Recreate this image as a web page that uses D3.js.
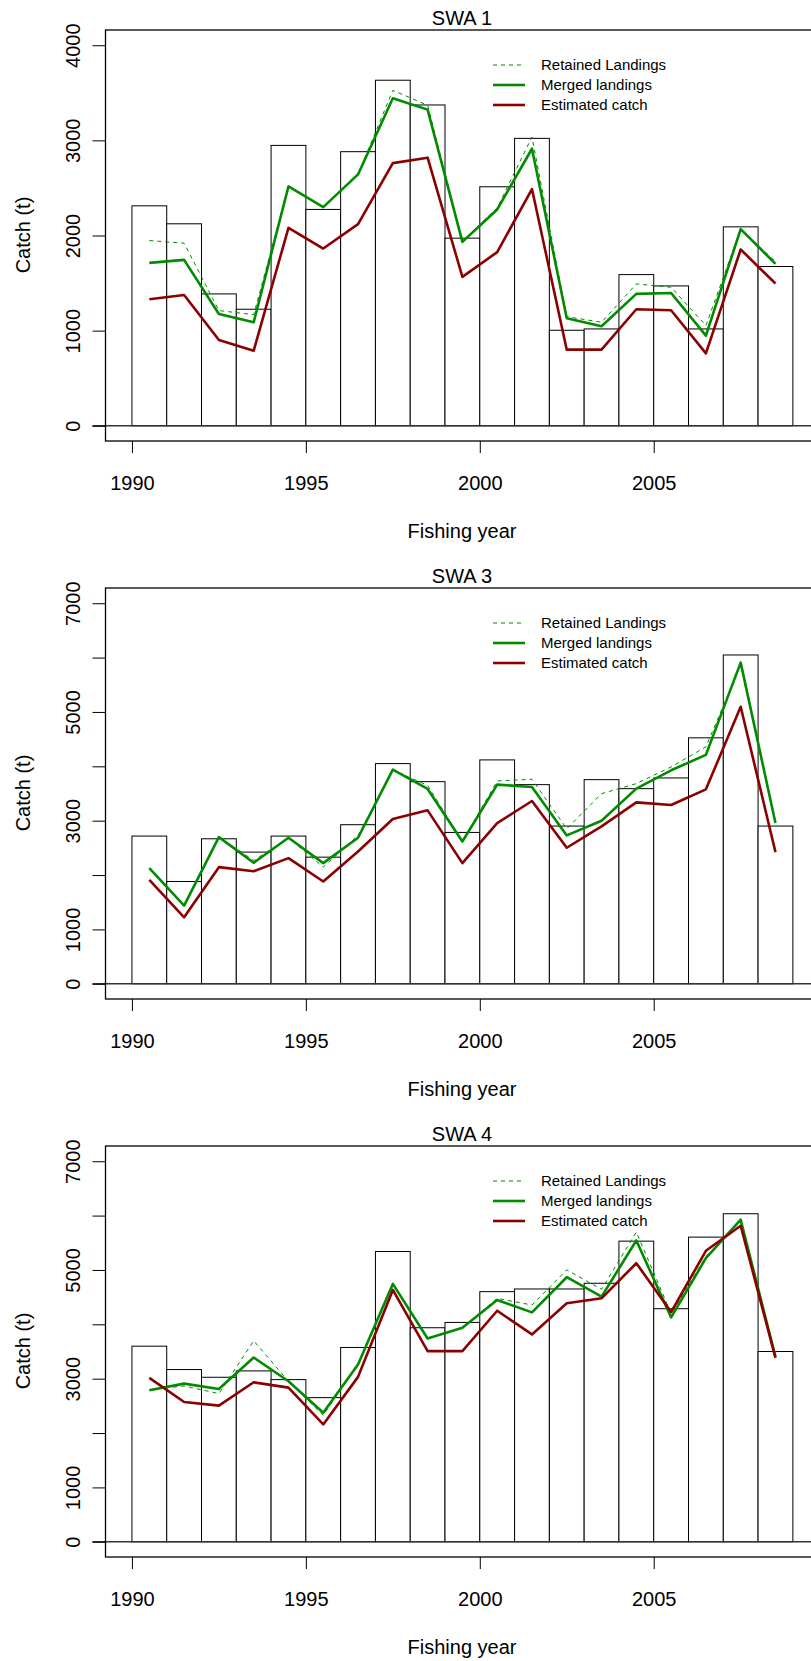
<!DOCTYPE html>
<html>
<head>
<meta charset="utf-8">
<script src="https://cdn.jsdelivr.net/npm/d3@7"></script>
<style>
  body { margin: 0; background: #fff; }
  svg text { font-family: "Liberation Sans", Arial, sans-serif; fill: #000; }
</style>
</head>
<body>
<div id="chart"></div>
<script>
// Años de pesca (cada barra cubre un año completo)
var years = [1990, 1991, 1992, 1993, 1994, 1995, 1996, 1997, 1998, 1999,
             2000, 2001, 2002, 2003, 2004, 2005, 2006, 2007, 2008];
var xTicks = [1990, 1995, 2000, 2005];

// SWA 1
var swa1Bars      = [2312, 2123, 1386, 1225, 2947, 2274, 2881, 3632, 3372, 1972, 2512, 3021, 1004, 1018, 1589, 1470, 1018, 2091, 1674];
var swa1Retained  = [1947, 1919, 1211, 1168, 2516, 2298, 2642, 3526, 3368, 1940, 2291, 3035, 1147, 1088, 1491, 1456, 1053, 2067, 1726];
var swa1Merged    = [1712, 1744, 1175, 1088, 2516, 2298, 2642, 3442, 3323, 1933, 2274, 2912, 1130, 1046, 1386, 1396,  947, 2067, 1702];
var swa1Estimated = [1330, 1375,  902,  789, 2081, 1863, 2119, 2761, 2818, 1565, 1825, 2488,  800,  800, 1225, 1214,  761, 1853, 1495];
var swa1Max = 4000;
var swa1Labels = [0, 1000, 2000, 3000, 4000];

// SWA 3
var swa3Bars      = [2717, 1881, 2667, 2422, 2717, 2329, 2926, 4050, 3718, 2784, 4118, 3663, 2901, 3755, 3589, 3786, 4524, 6048, 2901];
var swa3Retained  = [2127, 1438, 2698, 2268, 2686, 2145, 2729, 3927, 3651, 2618, 3731, 3762, 2852, 3497, 3682, 3989, 4358, 5864, 2956];
var swa3Merged    = [2127, 1438, 2698, 2225, 2686, 2219, 2686, 3940, 3583, 2618, 3663, 3620, 2729, 2999, 3589, 3927, 4210, 5907, 2956];
var swa3Estimated = [1911, 1223, 2145, 2071, 2311, 1881, 2434, 3030, 3190, 2219, 2956, 3362, 2502, 2895, 3337, 3288, 3577, 5095, 2422];
var swa3Max = 7000;
var swa3Labels = [0, 1000, 3000, 5000, 7000];

// SWA 4
var swa4Bars      = [3598, 3168, 3026, 3143, 2983, 2651, 3574, 5339, 3937, 4035, 4601, 4650, 4650, 4755, 5530, 4287, 5604, 6034, 3500];
var swa4Retained  = [2798, 2866, 2725, 3697, 2953, 2325, 3278, 4755, 3740, 3937, 4478, 4355, 5001, 4644, 5696, 4201, 5247, 5893, 3402];
var swa4Merged    = [2786, 2909, 2811, 3389, 2953, 2374, 3260, 4743, 3740, 3937, 4447, 4220, 4866, 4509, 5542, 4128, 5216, 5924, 3402];
var swa4Estimated = [3014, 2571, 2504, 2934, 2836, 2159, 3033, 4632, 3506, 3506, 4250, 3814, 4386, 4478, 5124, 4226, 5352, 5813, 3383];
var swa4Max = 7000;
var swa4Labels = [0, 1000, 3000, 5000, 7000];

var legendNames = ["Retained Landings", "Merged landings", "Estimated catch"];
var green = "#008B00", red = "#8B0000";

var width = 811, height = 1661;
var svg = d3.select("#chart").append("svg")
    .attr("width", width)
    .attr("height", height);

// Escala x comun (xlim 1990-2009 con la extension del 4%)
var plotLeft = 105.5, plotRight = 819.3, plotH = 411;
var x = d3.scaleLinear().domain([1989.24, 2009.76]).range([plotLeft, plotRight]);

/**
 * Dibuja un panel completo: barras, lineas, ejes y leyenda
 */
function dibujarPanel(title, top, bars, retained, merged, estimated, ymax, labels) {
    var bottom = top + plotH;
    var pad = ymax * 0.04;
    var y = d3.scaleLinear().domain([-pad, ymax + pad]).range([bottom, top]);
    var g = svg.append("g");

    // barras
    g.selectAll(".bar")
        .data(bars)
        .enter().append("rect")
        .attr("x", function (d, i) { return x(years[i]); })
        .attr("width", function (d, i) { return x(years[i] + 1) - x(years[i]); })
        .attr("y", function (d) { return y(d); })
        .attr("height", function (d) { return y(0) - y(d); })
        .attr("fill", "#fff")
        .attr("stroke", "#000")
        .attr("stroke-width", 1);

    // linea del cero
    g.append("line")
        .attr("x1", plotLeft - 13).attr("x2", width)
        .attr("y1", y(0)).attr("y2", y(0))
        .attr("stroke", "#333")
        .attr("stroke-width", 1.5);

    var line = d3.line()
        .x(function (d, i) { return x(years[i] + 0.5); })
        .y(function (d) { return y(d); });

    g.append("path").datum(retained)
        .attr("d", line).attr("fill", "none")
        .attr("stroke", green).attr("stroke-width", 1)
        .attr("stroke-dasharray", "4,4");
    g.append("path").datum(merged)
        .attr("d", line).attr("fill", "none")
        .attr("stroke", green).attr("stroke-width", 2.6)
        .attr("stroke-linejoin", "round");
    g.append("path").datum(estimated)
        .attr("d", line).attr("fill", "none")
        .attr("stroke", red).attr("stroke-width", 2.6)
        .attr("stroke-linejoin", "round");

    // caja
    g.append("rect")
        .attr("x", plotLeft).attr("y", top)
        .attr("width", plotRight - plotLeft).attr("height", plotH)
        .attr("fill", "none").attr("stroke", "#000").attr("stroke-width", 1.3);

    // eje y
    var yAxis = g.append("g")
        .attr("transform", "translate(" + plotLeft + ",0)")
        .call(d3.axisLeft(y)
            .tickValues(d3.range(0, ymax + 1, 1000))
            .tickSize(13)
            .tickFormat(function (d) { return labels.includes(d) ? d : ""; }));
    yAxis.select(".domain").remove();
    yAxis.selectAll("line").attr("stroke", "#000");
    yAxis.selectAll("text")
        .attr("transform", "rotate(-90)")
        .attr("x", 0)
        .attr("y", -33)
        .attr("dy", "0.35em")
        .style("text-anchor", "middle")
        .style("font-size", "20px");

    // eje x
    var xAxis = g.append("g")
        .attr("transform", "translate(0," + bottom + ")")
        .call(d3.axisBottom(x).tickValues(xTicks).tickSize(12).tickFormat(d3.format("d")));
    xAxis.select(".domain").remove();
    xAxis.selectAll("line").attr("stroke", "#000");
    xAxis.selectAll("text")
        .attr("y", 42)
        .attr("dy", "0.35em")
        .style("font-size", "20px");

    // titulos
    g.append("text")
        .attr("x", 462).attr("y", top - 12)
        .attr("dy", "0.35em")
        .attr("text-anchor", "middle")
        .style("font-size", "20px")
        .text(title);
    g.append("text")
        .attr("x", 462).attr("y", bottom + 90)
        .attr("dy", "0.35em")
        .attr("text-anchor", "middle")
        .style("font-size", "20px")
        .text("Fishing year");
    g.append("text")
        .attr("transform", "translate(23," + (top + 205) + ") rotate(-90)")
        .attr("dy", "0.35em")
        .attr("text-anchor", "middle")
        .style("font-size", "20px")
        .text("Catch (t)");

    // leyenda
    var estilos = [
        { color: green, w: 1, dash: "4,4" },
        { color: green, w: 2.6, dash: null },
        { color: red, w: 2.6, dash: null }
    ];
    legendNames.forEach(function (name, i) {
        var ly = top + 35 + i * 20;
        g.append("line")
            .attr("x1", 493).attr("x2", 525)
            .attr("y1", ly).attr("y2", ly)
            .attr("stroke", estilos[i].color)
            .attr("stroke-width", estilos[i].w)
            .attr("stroke-dasharray", estilos[i].dash);
        g.append("text")
            .attr("x", 541).attr("y", ly)
            .attr("dy", "0.35em")
            .style("font-size", "15px")
            .text(name);
    });
}

dibujarPanel("SWA 1", 30, swa1Bars, swa1Retained, swa1Merged, swa1Estimated, swa1Max, swa1Labels);
dibujarPanel("SWA 3", 588, swa3Bars, swa3Retained, swa3Merged, swa3Estimated, swa3Max, swa3Labels);
dibujarPanel("SWA 4", 1146, swa4Bars, swa4Retained, swa4Merged, swa4Estimated, swa4Max, swa4Labels);
</script>
</body>
</html>
